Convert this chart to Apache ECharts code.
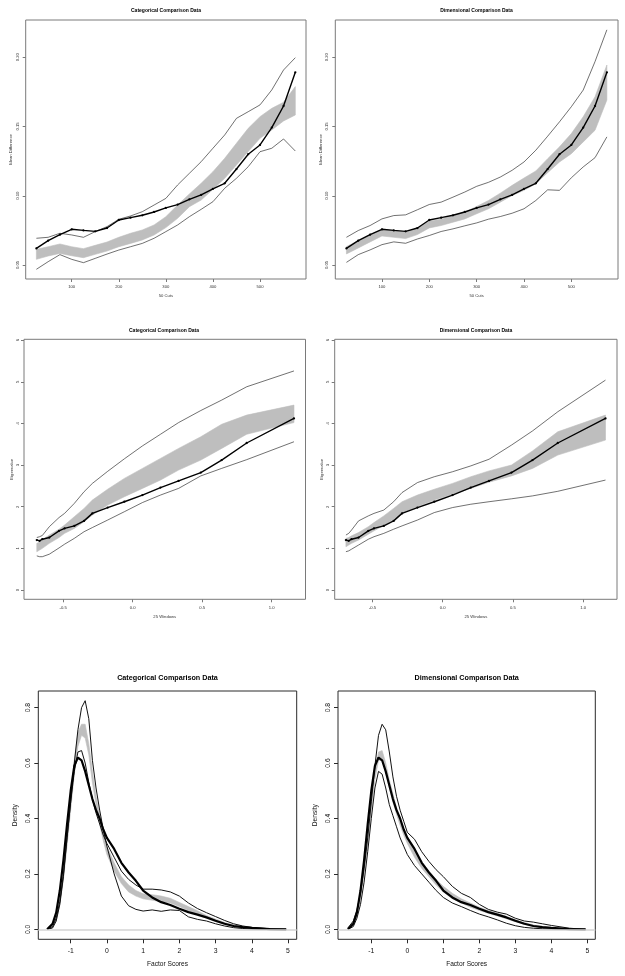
<!DOCTYPE html>
<html><head><meta charset="utf-8">
<script src="https://cdn.jsdelivr.net/npm/echarts@6/dist/echarts.min.js"></script>
<style>html,body{margin:0;padding:0;background:#fff}#c{width:625px;height:976px}</style>
</head><body><div id="c"></div>
<script>
// ---------- Row 1: Mean Difference vs 50 Cuts ----------
const cutsX = [25,50,75,100,125,150,175,200,225,250,275,300,325,350,375,400,425,450,475,500,525,550,575];
const meanObs = [0.0620,0.0676,0.0719,0.0758,0.0750,0.0743,0.0767,0.0825,0.0842,0.0859,0.0883,0.0912,0.0936,0.0974,0.1006,0.1050,0.1090,0.1193,0.1300,0.1367,0.1492,0.1648,0.1891];
const catCutBandHi = [0.0613,0.0632,0.0652,0.0632,0.0618,0.0642,0.0666,0.0700,0.0729,0.0753,0.0789,0.0849,0.0933,0.1013,0.1090,0.1174,0.1270,0.1379,0.1487,0.1571,0.1631,0.1675,0.1788];
const catCutBandLo = [0.0541,0.0565,0.0584,0.0567,0.0553,0.0577,0.0601,0.0632,0.0656,0.0681,0.0717,0.0770,0.0837,0.0921,0.0969,0.1046,0.1126,0.1222,0.1319,0.1415,0.1475,0.1540,0.1583];
const catCutEnvHi = [0.0693,0.0700,0.0729,0.0717,0.0700,0.0741,0.0777,0.0830,0.0854,0.0885,0.0933,0.0981,0.1078,0.1162,0.1246,0.1343,0.1439,0.1559,0.1607,0.1656,0.1764,0.1908,0.1997];
const catCutEnvLo = [0.0469,0.0524,0.0575,0.0541,0.0517,0.0548,0.0579,0.0608,0.0632,0.0656,0.0693,0.0741,0.0789,0.0849,0.0902,0.0957,0.1054,0.1126,0.1210,0.1318,0.1343,0.1410,0.1323];
const dimCutBandHi = [0.0633,0.0676,0.0720,0.0756,0.0749,0.0737,0.0766,0.0816,0.0833,0.0857,0.0882,0.0923,0.0966,0.1019,0.1075,0.1128,0.1179,0.1268,0.1353,0.1449,0.1570,0.1715,0.1944];
const dimCutBandLo = [0.0580,0.0623,0.0667,0.0710,0.0700,0.0691,0.0720,0.0768,0.0785,0.0809,0.0833,0.0870,0.0906,0.0954,0.1002,0.1039,0.1087,0.1167,0.1244,0.1304,0.1389,0.1473,0.1691];
const dimCutEnvHi = [0.0700,0.0749,0.0785,0.0833,0.0857,0.0862,0.0899,0.0937,0.0954,0.0990,0.1027,0.1068,0.1097,0.1135,0.1184,0.1244,0.1329,0.1430,0.1534,0.1643,0.1763,0.1969,0.2198];
const dimCutEnvLo = [0.0519,0.0575,0.0609,0.0647,0.0667,0.0657,0.0688,0.0713,0.0742,0.0761,0.0783,0.0804,0.0831,0.0850,0.0874,0.0906,0.0966,0.1043,0.1039,0.1130,0.1208,0.1275,0.1425];
const cutsXTicks = [100,200,300,400,500];
const meanYTicks = [0.05,0.10,0.15,0.20];

// ---------- Row 2: Eigenvalue vs 25 Windows ----------
const winX = [-0.69,-0.67,-0.65,-0.60,-0.53,-0.49,-0.42,-0.35,-0.29,-0.18,-0.06,0.07,0.20,0.33,0.49,0.64,0.82,1.16];
const eigObs = [1.20,1.18,1.22,1.26,1.42,1.48,1.54,1.66,1.84,1.98,2.12,2.28,2.46,2.62,2.82,3.12,3.53,4.12];
const catEigBandHi = [1.12,1.15,1.20,1.32,1.46,1.56,1.76,1.96,2.16,2.42,2.68,2.92,3.16,3.40,3.68,3.98,4.20,4.44];
const catEigBandLo = [0.92,0.96,1.00,1.12,1.26,1.36,1.48,1.64,1.80,2.04,2.24,2.44,2.64,2.88,3.12,3.40,3.74,4.02];
const catEigEnvHi = [1.26,1.28,1.31,1.52,1.74,1.84,2.08,2.36,2.56,2.85,3.15,3.46,3.74,4.02,4.31,4.56,4.88,5.26];
const catEigEnvLo = [0.82,0.80,0.80,0.86,1.01,1.10,1.24,1.40,1.50,1.68,1.88,2.10,2.28,2.44,2.74,2.92,3.13,3.56];
const dimEigBandHi = [1.24,1.26,1.30,1.38,1.52,1.62,1.78,1.96,2.12,2.28,2.42,2.56,2.72,2.86,3.00,3.34,3.80,4.20];
const dimEigBandLo = [1.04,1.08,1.12,1.20,1.34,1.42,1.55,1.70,1.84,2.00,2.16,2.30,2.44,2.59,2.74,2.92,3.24,3.60];
const dimEigEnvHi = [1.32,1.36,1.44,1.66,1.78,1.84,1.92,2.12,2.34,2.58,2.72,2.84,2.98,3.14,3.48,3.82,4.28,5.04];
const dimEigEnvLo = [0.92,0.94,0.98,1.08,1.22,1.28,1.36,1.46,1.54,1.68,1.86,1.98,2.06,2.12,2.19,2.26,2.37,2.64];
const winXTicks = [-0.5,0.0,0.5,1.0];
const eigYTicks = [0,1,2,3,4,5,6];

// ---------- Row 3: Density vs Factor Scores ----------
const densX = [-1.65,-1.5,-1.4,-1.3,-1.2,-1.1,-1.0,-0.9,-0.8,-0.7,-0.6,-0.5,-0.4,-0.3,-0.2,-0.1,0,0.2,0.4,0.6,0.8,1.0,1.25,1.5,1.75,2.0,2.25,2.5,2.75,3.0,3.25,3.5,3.75,4.0,4.5,4.95];
const densObs = [0,0.02,0.06,0.14,0.25,0.38,0.50,0.59,0.62,0.61,0.57,0.52,0.47,0.43,0.40,0.36,0.33,0.29,0.24,0.205,0.175,0.14,0.115,0.098,0.088,0.074,0.062,0.053,0.043,0.031,0.020,0.012,0.008,0.005,0.001,0];
const catDensA = [0,0.005,0.03,0.09,0.19,0.33,0.46,0.60,0.72,0.80,0.825,0.76,0.61,0.51,0.43,0.36,0.30,0.20,0.12,0.085,0.072,0.066,0.070,0.065,0.070,0.068,0.045,0.036,0.030,0.020,0.012,0.006,0.003,0.001,0,0];
const catDensB = [0,0.01,0.04,0.10,0.20,0.33,0.46,0.57,0.64,0.645,0.60,0.53,0.47,0.42,0.38,0.34,0.31,0.26,0.21,0.18,0.16,0.145,0.145,0.142,0.135,0.12,0.095,0.075,0.06,0.046,0.032,0.02,0.012,0.007,0.002,0];
const catDensBandLo = [0,0.005,0.03,0.09,0.18,0.30,0.43,0.56,0.66,0.70,0.69,0.63,0.53,0.45,0.38,0.32,0.27,0.21,0.165,0.135,0.12,0.11,0.105,0.10,0.095,0.082,0.068,0.055,0.04,0.028,0.018,0.01,0.005,0.002,0,0];
const catDensBandHi = [0,0.015,0.05,0.11,0.21,0.34,0.47,0.61,0.71,0.74,0.74,0.67,0.57,0.48,0.41,0.35,0.30,0.24,0.19,0.16,0.14,0.128,0.125,0.12,0.112,0.097,0.082,0.067,0.05,0.037,0.025,0.016,0.01,0.005,0.001,0];
const dimDensA = [0.005,0.03,0.07,0.13,0.22,0.33,0.46,0.59,0.70,0.74,0.72,0.64,0.55,0.48,0.43,0.39,0.35,0.325,0.28,0.245,0.215,0.19,0.155,0.13,0.115,0.09,0.072,0.062,0.055,0.04,0.03,0.026,0.02,0.014,0.004,0];
const dimDensB = [0,0.01,0.04,0.09,0.17,0.28,0.40,0.51,0.57,0.56,0.51,0.45,0.41,0.37,0.33,0.30,0.27,0.23,0.20,0.17,0.14,0.115,0.095,0.082,0.068,0.055,0.045,0.034,0.022,0.013,0.007,0.004,0.002,0.001,0,0];
const dimDensBandLo = [0,0.015,0.05,0.11,0.20,0.31,0.43,0.54,0.61,0.61,0.57,0.51,0.46,0.415,0.375,0.34,0.31,0.26,0.22,0.19,0.16,0.135,0.11,0.095,0.08,0.068,0.058,0.048,0.038,0.027,0.018,0.011,0.006,0.003,0,0];
const dimDensBandHi = [0.005,0.025,0.065,0.13,0.225,0.34,0.46,0.57,0.64,0.645,0.60,0.54,0.49,0.44,0.40,0.365,0.335,0.285,0.245,0.21,0.18,0.155,0.13,0.11,0.095,0.08,0.068,0.058,0.047,0.035,0.025,0.016,0.01,0.006,0.002,0];
const densXTicks = [-1,0,1,2,3,4,5];
const densYTicks = [0.0,0.2,0.4,0.6,0.8];

const titles = ['Categorical Comparison Data','Dimensional Comparison Data'];

// ---------- build ----------
const FONT = '"Liberation Sans", Arial, Helvetica, sans-serif';
const zip = (xs, ys) => xs.map((x, i) => [x, ys[i]]);
const zip3 = (xs, lo, hi) => xs.map((x, i) => [x, lo[i], hi[i]]);

const small = {tick:4.2, title:5, name:4.2, frame:'#7a7a7a', text:'#333', tickLen:3, mainW:1.4, thinW:0.6, dot:2.3};
const big = {tick:6.8, title:7.2, name:6.6, frame:'#2a2a2a', text:'#111', tickLen:4, mainW:2.2, thinW:1.0, dot:0};

const panels = [
  {g:[25.7,20,280.3,259], xr:[2.3,597.7], yr:[0.0399,0.2269], xt:cutsXTicks, yt:meanYTicks, xf:v=>String(v), yf:v=>v.toFixed(2),
   st:small, title:titles[0], tx:166, ty:11, xname:'50 Cuts', yname:'Mean Difference', xgap:15, ygap:12.5, xm:6, ym:6,
   x:cutsX, obs:meanObs, lo:catCutBandLo, hi:catCutBandHi, lines:[catCutEnvLo, catCutEnvHi], dots:true},
  {g:[335.3,20,282.7,259], xr:[1.5,598.5], yr:[0.0399,0.2269], xt:cutsXTicks, yt:meanYTicks, xf:v=>String(v), yf:v=>v.toFixed(2),
   st:small, title:titles[1], tx:476.5, ty:11, xname:'50 Cuts', yname:'Mean Difference', xgap:15, ygap:12.5, xm:6, ym:6,
   x:cutsX, obs:meanObs, lo:dimCutBandLo, hi:dimCutBandHi, lines:[dimCutEnvLo, dimCutEnvHi], dots:true},
  {g:[24,339.3,281.5,260], xr:[-0.782,1.243], yr:[-0.223,6.02], xt:winXTicks, yt:eigYTicks, xf:v=>v.toFixed(1), yf:v=>String(v),
   st:small, title:titles[0], tx:164, ty:330.7, xname:'25 Windows', yname:'Eigenvalue', xgap:16, ygap:10.5, xm:6.5, ym:4.5,
   x:winX, obs:eigObs, lo:catEigBandLo, hi:catEigBandHi, lines:[catEigEnvLo, catEigEnvHi], dots:true},
  {g:[334.7,339.3,282.3,260], xr:[-0.77,1.242], yr:[-0.223,6.02], xt:winXTicks, yt:eigYTicks, xf:v=>v.toFixed(1), yf:v=>String(v),
   st:small, title:titles[1], tx:476, ty:330.7, xname:'25 Windows', yname:'Eigenvalue', xgap:16, ygap:10.5, xm:6.5, ym:4.5,
   x:winX, obs:eigObs, lo:dimEigBandLo, hi:dimEigBandHi, lines:[dimEigEnvLo, dimEigEnvHi], dots:true},
  {g:[38.3,691,258.4,248.3], xr:[-1.894,5.24], yr:[-0.036,0.86], xt:densXTicks, yt:densYTicks, xf:v=>String(v), yf:v=>v.toFixed(1),
   st:big, title:titles[0], tx:167.5, ty:678.3, xname:'Factor Scores', yname:'Density', xgap:21.5, ygap:19.5, xm:8, ym:6.5,
   x:densX, obs:densObs, lo:catDensBandLo, hi:catDensBandHi, lines:[catDensA, catDensB], dots:false, zero:true},
  {g:[338,691,257.3,248.3], xr:[-1.925,5.22], yr:[-0.036,0.86], xt:densXTicks, yt:densYTicks, xf:v=>String(v), yf:v=>v.toFixed(1),
   st:big, title:titles[1], tx:466.7, ty:678.3, xname:'Factor Scores', yname:'Density', xgap:21.5, ygap:19, xm:8, ym:6.5,
   x:densX, obs:densObs, lo:dimDensBandLo, hi:dimDensBandHi, lines:[dimDensA, dimDensB], dots:false, zero:true}
];

const grids = [], xAxes = [], yAxes = [], series = [], graphics = [];
panels.forEach((p, i) => {
  const s = p.st;
  grids.push({left:p.g[0], top:p.g[1], width:p.g[2], height:p.g[3], show:true, borderColor:s.frame, borderWidth:1, backgroundColor:'rgba(0,0,0,0)'});
  const common = {type:'value', gridIndex:i, splitLine:{show:false}, axisLine:{show:false, onZero:false},
    name:'', nameLocation:'middle', nameTextStyle:{fontFamily:FONT, fontSize:s.name, color:s.text}};
  xAxes.push(Object.assign({}, common, {position:'bottom', min:p.xr[0], max:p.xr[1], name:p.xname, nameGap:p.xgap,
    axisTick:{show:true, length:s.tickLen, customValues:p.xt, lineStyle:{color:s.frame, width:1}},
    axisLabel:{customValues:p.xt, formatter:p.xf, fontFamily:FONT, fontSize:s.tick, color:s.text, margin:p.xm}}));
  yAxes.push(Object.assign({}, common, {position:'left', min:p.yr[0], max:p.yr[1], name:p.yname, nameGap:p.ygap,
    axisTick:{show:true, length:s.tickLen, customValues:p.yt, lineStyle:{color:s.frame, width:1}},
    axisLabel:{customValues:p.yt, formatter:p.yf, rotate:90, fontFamily:FONT, fontSize:s.tick, color:s.text, margin:p.ym}}));

  const band = {type:'custom', xAxisIndex:i, yAxisIndex:i, z:1, silent:true, clip:true,
    data: zip3(p.x, p.lo, p.hi), encode:{x:0, y:[1,2]},
    renderItem: (params, api) => {
      if (params.dataIndexInside !== 0) return null;
      const n = params.dataInsideLength, top = [], bot = [];
      for (let j = 0; j < n; j++) {
        top.push(api.coord([api.value(0, j), api.value(2, j)]));
        bot.push(api.coord([api.value(0, j), api.value(1, j)]));
      }
      return {type:'polygon', shape:{points: top.concat(bot.reverse())},
              style:{fill:'#bebebe', stroke:'#bebebe', lineWidth:0.6}};
    }};
  if (p.zero) {
    band.markLine = {silent:true, symbol:['none','none'], label:{show:false}, animation:false,
      lineStyle:{color:'#d4d4d4', width:1.6, type:'solid'}, data:[{yAxis:0}]};
  }
  series.push(band);
  p.lines.forEach(arr => series.push({type:'line', xAxisIndex:i, yAxisIndex:i, z:2, silent:true,
    data: zip(p.x, arr), symbol:'none', lineStyle:{color:'#111', width:s.thinW}}));
  series.push({type:'line', xAxisIndex:i, yAxisIndex:i, z:3, silent:true, data: zip(p.x, p.obs),
    symbol: p.dots ? 'circle' : 'none', symbolSize: s.dot, showSymbol: p.dots,
    itemStyle:{color:'#000'}, lineStyle:{color:'#000', width:s.mainW}});

  graphics.push({type:'text', x:p.tx, y:p.ty, silent:true,
    style:{text:p.title, font:'bold ' + s.title + 'px ' + FONT, fill:'#000',
           align:'center', verticalAlign:'middle', textAlign:'center', textVerticalAlign:'middle'}});
});

const chart = echarts.init(document.getElementById('c'), null, {renderer:'canvas', width:625, height:976});
chart.setOption({
  animation:false,
  backgroundColor:'#fff',
  grid:grids, xAxis:xAxes, yAxis:yAxes, series:series, graphic:graphics
});
</script></body></html>
